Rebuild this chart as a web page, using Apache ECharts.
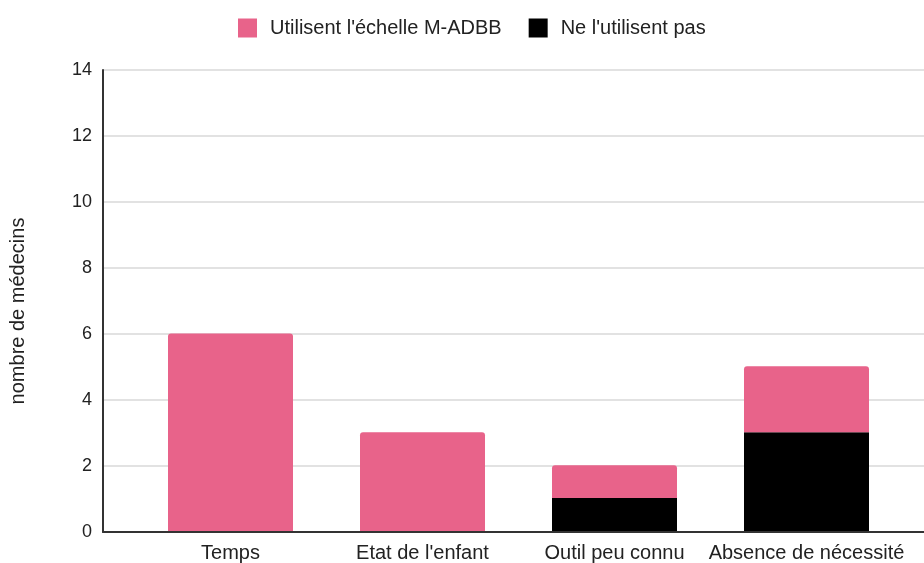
<!DOCTYPE html>
<html>
<head>
<meta charset="utf-8">
<script src="https://cdn.jsdelivr.net/npm/echarts@6/dist/echarts.min.js"></script>
<style>
  html, body { margin: 0; padding: 0; background: #fff; }
  #chart { width: 924px; height: 563px; }
</style>
</head>
<body>
<div id="chart"></div>
<script>
const categories = ['Temps', "Etat de l'enfant", 'Outil peu connu', 'Absence de nécessité'];
const utilisent = [6, 3, 1, 2];
const nUtilisentPas = [0, 0, 1, 3];
const yMin = 0, yMax = 14, yStep = 2;

const FONT = '"Liberation Sans", Arial, sans-serif';
const PINK = '#e8638a';

const chart = echarts.init(document.getElementById('chart'));

chart.setOption({
  animation: false,
  textStyle: { fontFamily: FONT },
  legend: {
    top: 13,
    left: 233,
    itemWidth: 19,
    itemHeight: 19,
    itemGap: 27,
    icon: 'rect',
    data: ["Utilisent l'échelle M-ADBB", "Ne l'utilisent pas"],
    textStyle: { fontFamily: FONT, fontSize: 20, color: '#222', padding: [0, 0, 0, 8] }
  },
  grid: [
    // bars
    { left: 134.5, right: 21.5, top: 70, bottom: 31 },
    // frame: axis line, split lines, y labels
    { left: 103, right: 0, top: 70, bottom: 31 }
  ],
  xAxis: [
    {
      gridIndex: 0,
      type: 'category',
      data: categories,
      axisLine: { show: false },
      axisTick: { show: false },
      axisLabel: { fontFamily: FONT, fontSize: 20, color: '#222', margin: 12, interval: 0 }
    },
    {
      gridIndex: 1,
      type: 'category',
      data: categories,
      axisLine: { show: true, lineStyle: { color: '#333', width: 2 } },
      axisTick: { show: false },
      axisLabel: { show: false }
    }
  ],
  yAxis: [
    {
      gridIndex: 0,
      type: 'value',
      min: yMin, max: yMax, interval: yStep,
      show: false
    },
    {
      gridIndex: 1,
      type: 'value',
      min: yMin, max: yMax, interval: yStep,
      name: 'nombre de médecins',
      nameLocation: 'middle',
      nameGap: 75,
      nameTextStyle: { fontFamily: FONT, fontSize: 20, color: '#222', padding: [0, 20, 0, 0] },
      axisLine: { show: true, lineStyle: { color: '#333', width: 2 } },
      axisTick: { show: false },
      axisLabel: { fontFamily: FONT, fontSize: 18, color: '#222', margin: 11 },
      splitLine: { lineStyle: { color: '#d9d9d9', width: 1.5 } }
    }
  ],
  series: [
    {
      name: "Ne l'utilisent pas",
      type: 'bar',
      stack: 'total',
      xAxisIndex: 0,
      yAxisIndex: 0,
      barWidth: 125,
      itemStyle: { color: '#000' },
      data: nUtilisentPas
    },
    {
      name: "Utilisent l'échelle M-ADBB",
      type: 'bar',
      stack: 'total',
      xAxisIndex: 0,
      yAxisIndex: 0,
      barWidth: 125,
      itemStyle: { color: PINK, borderRadius: [3, 3, 0, 0] },
      data: utilisent
    }
  ]
});
</script>
</body>
</html>
